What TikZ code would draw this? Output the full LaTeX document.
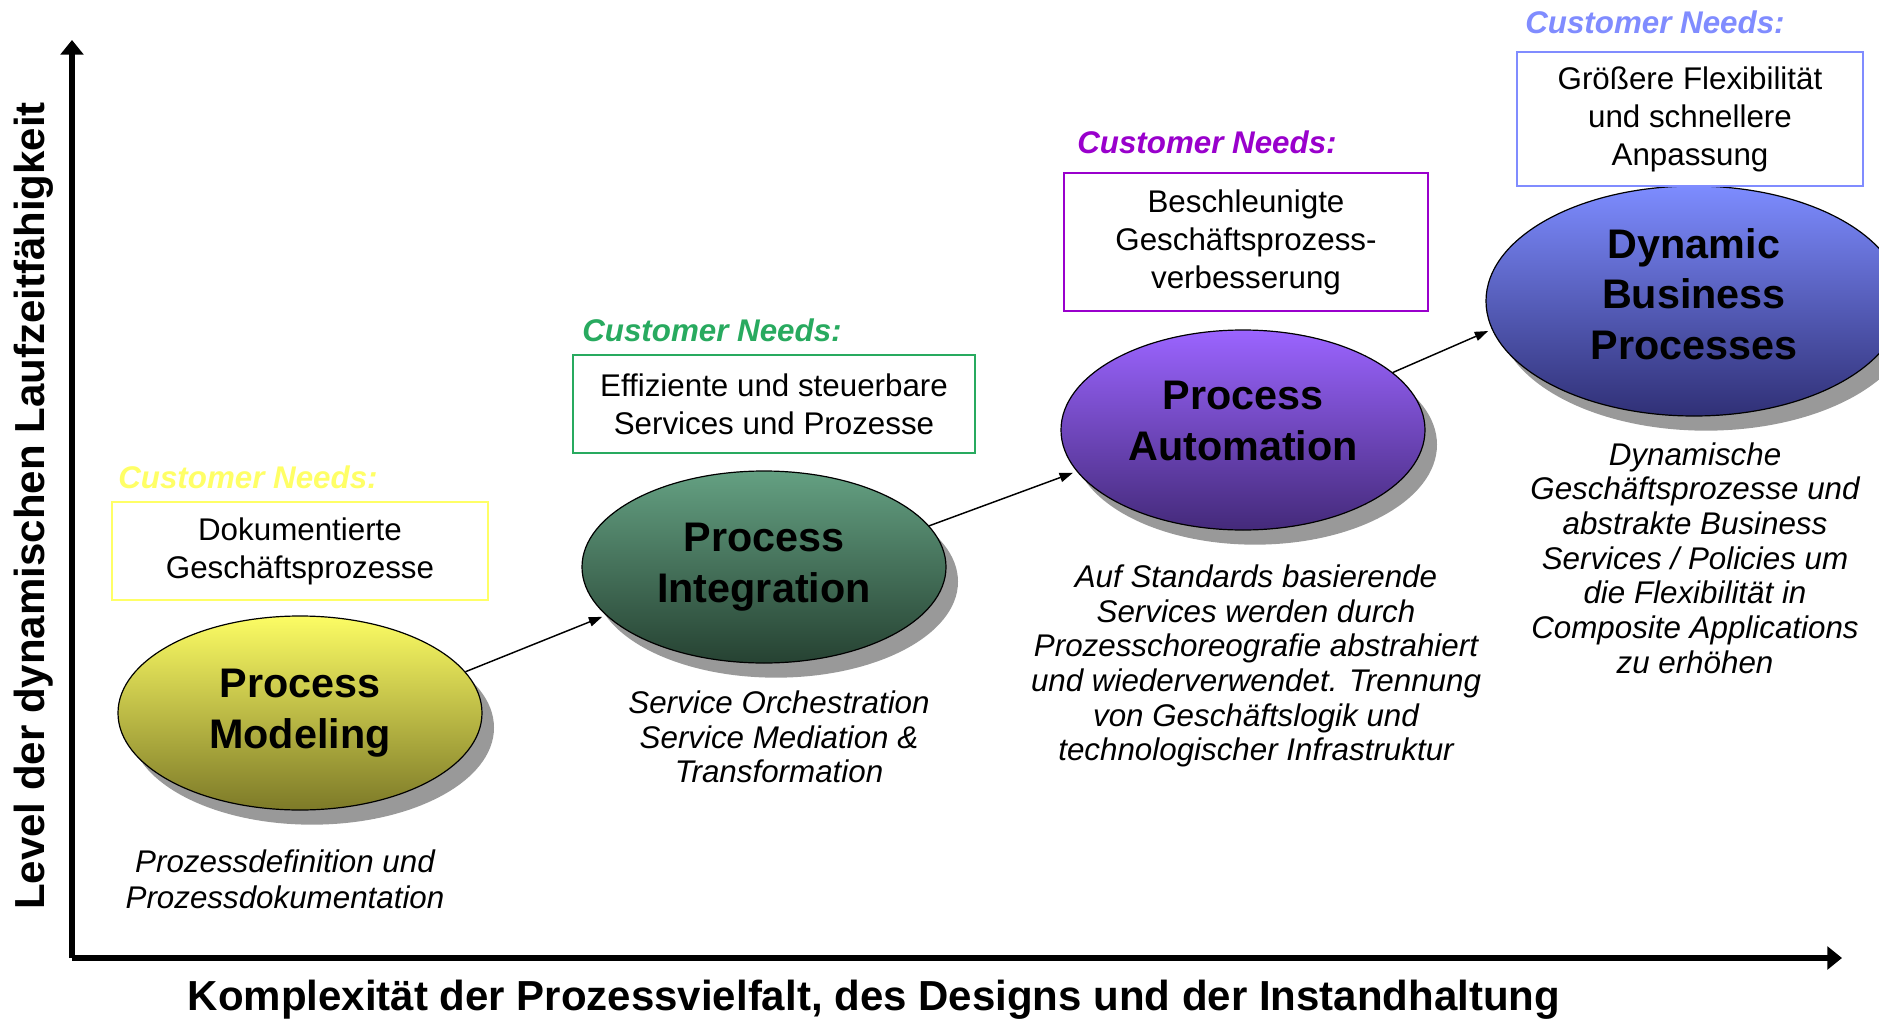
\documentclass[tikz,border=0pt]{standalone}
\usepackage{fontspec}
\setmainfont{Liberation Sans}
\usetikzlibrary{shapes.geometric}
\usetikzlibrary{shadows}
\usetikzlibrary{arrows.meta}

\definecolor{needyellow}{RGB}{255,255,102}
\definecolor{needgreen}{RGB}{40,170,95}
\definecolor{needpurple}{RGB}{153,0,204}
\definecolor{needblue}{RGB}{128,140,255}
\definecolor{pmtop}{RGB}{252,252,100}
\definecolor{pmbot}{RGB}{125,122,40}
\definecolor{pitop}{RGB}{100,160,130}
\definecolor{pibot}{RGB}{38,66,50}
\definecolor{patop}{RGB}{155,100,255}
\definecolor{pabot}{RGB}{68,42,122}
\definecolor{dbtop}{RGB}{125,140,255}
\definecolor{dbbot}{RGB}{48,48,118}

\tikzset{
  stage/.style={ellipse, draw=black, line width=0.9pt, inner sep=0pt, align=center,
    font=\fontsize{31}{38}\selectfont\bfseries,
    drop shadow={shadow xshift=9pt, shadow yshift=-11pt, fill=black!40, opacity=1}},
  needbox/.style={draw=#1, line width=1.4pt, fill=white, inner sep=0pt, align=center,
    font=\fontsize{23.5}{28.5}\selectfont},
  needlabel/.style={text=#1, anchor=west, inner sep=0pt,
    font=\fontsize{23.5}{28}\selectfont\bfseries\itshape},
  stagetext/.style={align=center, inner sep=0pt, font=\fontsize{23.5}{26}\selectfont\itshape},
  axis/.style={line width=3.8pt, -{Triangle[length=11pt,width=17pt]}},
  flow/.style={line width=1.1pt, -{Triangle[length=10pt,width=7pt]}, shorten >=3pt},
  axislabel/.style={inner sep=0pt, font=\fontsize{31.5}{36}\selectfont\bfseries}
}

\begin{document}
\begin{tikzpicture}[x=0.75pt,y=0.75pt,yscale=-1,xscale=1]
\useasboundingbox (0,0) rectangle (1879,1024);

%Axes
\coordinate (origin) at (72,958);
\coordinate (ytip) at (72,40);
\coordinate (xtip) at (1842,958);
\draw [axis] (origin) -- (ytip);
\draw [axis] (origin) -- (xtip);

% Text Node
\node [axislabel, rotate=90] (ylabel) at (34,506) {Level der dynamischen Laufzeitfähigkeit};
% Text Node
\node [axislabel] (xlabel) at (874,1000) {Komplexität der Prozessvielfalt, des Designs und der Instandhaltung};

%Shape: Ellipses
\node [stage, top color=pmtop, bottom color=pmbot, minimum width=273pt, minimum height=145.5pt] (pm) at (300,713) {Process\\Modeling};
\node [stage, top color=pitop, bottom color=pibot, minimum width=273pt, minimum height=144pt] (pi) at (764,567) {Process\\Integration};
\node [stage, top color=patop, bottom color=pabot, minimum width=273pt, minimum height=150pt] (pa) at (1243,430) {Process\\Automation\\[-24.5pt]\mbox{}};
\node [stage, top color=dbtop, bottom color=dbbot, minimum width=312pt, minimum height=172.5pt] (db) at (1694,301) {Dynamic\\Business\\Processes\\[-27.5pt]\mbox{}};

%Straight Lines
\draw [flow] (pm.14) -- (pi.197);
\draw [flow] (pi.14) -- (pa.194);
\draw [flow] (pa.21) -- (db.188);

%Shape: Rectangles
\node [needbox=needyellow, minimum width=282pt, minimum height=73.5pt] (nb1) at (300,551) {Dokumentierte\\Geschäftsprozesse};
\node [needbox=needgreen, minimum width=301.5pt, minimum height=73.5pt] (nb2) at (774,404) {Effiziente und steuerbare\\Services und Prozesse};
\node [needbox=needpurple, minimum width=273pt, minimum height=103.5pt] (nb3) at (1246,242) {Beschleunigte\\Geschäftsprozess-\\verbesserung};
\node [needbox=needblue, minimum width=259pt, minimum height=101pt] (nb4) at (1690,119) {Größere Flexibilität\\und schnellere\\Anpassung};

% Text Node
\node [needlabel=needyellow] (cn1) at (118,477) {Customer Needs:};
\node [needlabel=needgreen] (cn2) at (582,330) {Customer Needs:};
\node [needlabel=needpurple] (cn3) at (1077,142) {Customer Needs:};
\node [needlabel=needblue] (cn4) at (1525,22) {Customer Needs:};

% Text Node
\node [stagetext, font=\fontsize{23.5}{27}\selectfont\itshape] (d1) at (285,879) {Prozessdefinition und\\Prozessdokumentation};
\node [stagetext] (d2) at (779,737) {Service Orchestration\\Service Mediation \&\\Transformation};
\node [stagetext] (d3) at (1256,666) {Auf Standards basierende\\Services werden durch\\Prozesschoreografie abstrahiert\\und wiederverwendet. Trennung\\von Geschäftslogik und\\technologischer Infrastruktur};
\node [stagetext] (d4) at (1695,558) {Dynamische\\Geschäftsprozesse und\\abstrakte Business\\Services / Policies um\\die Flexibilität in\\Composite Applications\\zu erhöhen};

\end{tikzpicture}
\end{document}
